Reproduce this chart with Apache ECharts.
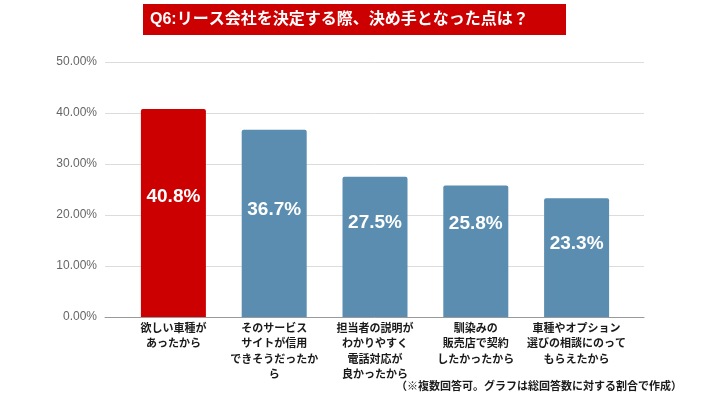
<!DOCTYPE html>
<html><head><meta charset="utf-8">
<script src="https://cdn.jsdelivr.net/npm/echarts@6/dist/echarts.min.js"></script>
<style>html,body{margin:0;padding:0;background:#fff}#c{width:710px;height:399px}</style>
</head><body><div id="c"></div>
<script>
const titleText = 'Q6:リース会社を決定する際、決め手となった点は？';
const footnote = '（※複数回答可。グラフは総回答数に対する割合で作成）';
const categories = ['欲しい車種が\nあったから', 'そのサービス\nサイトが信用\nできそうだったか\nら', '担当者の説明が\nわかりやすく\n電話対応が\n良かったから', '馴染みの\n販売店で契約\nしたかったから', '車種やオプション\n選びの相談にのって\nもらえたから'];
const values = [40.8, 36.7, 27.5, 25.8, 23.3];
const yTicks = [0, 10, 20, 30, 40, 50];
const labelDistances = [78, 70, 37, 29, 36];
const barColors = ['#cc0000', '#5a8db0', '#5a8db0', '#5a8db0', '#5a8db0'];

const FONT = "'Liberation Sans', Arial, 'Noto Sans CJK JP', sans-serif";
const chart = echarts.init(document.getElementById('c'), null, {renderer: 'canvas'});
chart.setOption({
  animation: false,
  backgroundColor: '#ffffff',
  grid: [
    {left: 105, right: 66, top: 62, bottom: 82},
    {left: 123, right: 83, top: 62, bottom: 82}
  ],
  xAxis: [
    {gridIndex: 0, type: 'category', data: [''], axisTick: {show: false}, axisLabel: {show: false},
     axisLine: {lineStyle: {color: '#999', width: 1}}},
    {gridIndex: 1, type: 'category', data: categories, axisTick: {show: false}, axisLine: {show: false},
     axisLabel: {interval: 0, margin: 4, color: '#1a1a1a', fontSize: 11, fontWeight: 'bold', lineHeight: 15.5,
       fontFamily: FONT, align: 'center'}}
  ],
  yAxis: [
    {gridIndex: 0, type: 'value', min: yTicks[0], max: yTicks[yTicks.length - 1], interval: 10,
     axisLine: {show: false}, axisTick: {show: false},
     axisLabel: {margin: 8, color: '#666', fontSize: 12, fontFamily: FONT,
       formatter: v => v.toFixed(2) + '%'},
     splitLine: {lineStyle: {color: '#dcdcdc', width: 1}}},
    {gridIndex: 1, type: 'value', min: yTicks[0], max: yTicks[yTicks.length - 1], interval: 10, show: false,
     splitLine: {show: false}}
  ],
  series: [{
    type: 'bar', xAxisIndex: 1, yAxisIndex: 1, barWidth: 65,
    data: values.map((v, i) => ({
      value: v,
      itemStyle: {color: barColors[i], borderRadius: [2, 2, 0, 0]},
      label: {distance: labelDistances[i]}
    })),
    label: {show: true, position: 'insideTop', color: '#fff', fontSize: 19, fontWeight: 'bold',
      fontFamily: FONT, formatter: p => p.value.toFixed(1) + '%'}
  }],
  graphic: [
    {type: 'rect', shape: {x: 143, y: 4, width: 423, height: 31}, style: {fill: '#cc0000'}},
    {type: 'text', x: 150, y: 20, style: {text: titleText, fill: '#fff', font: "bold 16px " + FONT,
      textVerticalAlign: 'middle', verticalAlign: 'middle'}},
    {type: 'text', x: 682, y: 387, style: {text: footnote, fill: '#1a1a1a', font: "bold 11px " + FONT,
      align: 'right', textAlign: 'right', verticalAlign: 'middle', textVerticalAlign: 'middle'}}
  ]
});
</script></body></html>
